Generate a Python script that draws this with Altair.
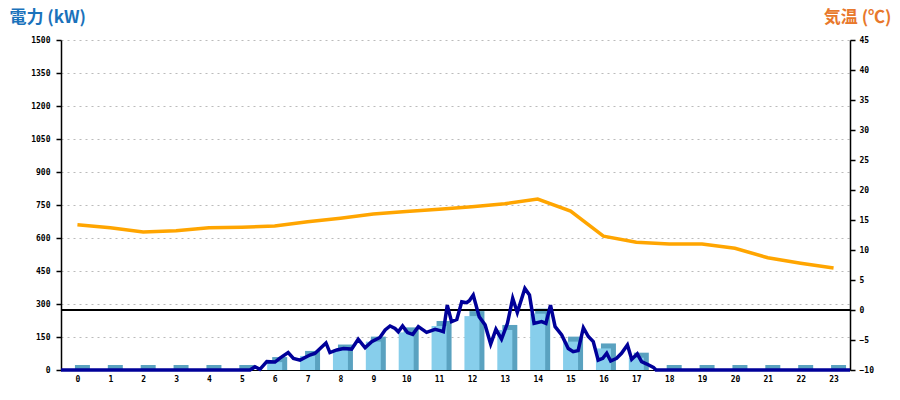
import altair as alt
import pandas as pd

# Hourly bars (kW), centred in each hour
hours = list(range(24))
bar_kw = [0, 0, 0, 0, 0, 0, 36, 64, 93, 129, 171, 200, 245, 182, 256, 129, 98, 56, 0, 0, 0, 0, 0, 0]

# Hourly temperature (°C)
temp_c = [14.2, 13.7, 13.0, 13.2, 13.7, 13.8, 14.0, 14.7, 15.3, 16.0, 16.4, 16.8,
          17.2, 17.7, 18.5, 16.5, 12.3, 11.3, 11.0, 11.0, 10.3, 8.7, 7.8, 7.0]

# Power line readings (time in hours, kW)
line_t = [0, 5.75, 5.9, 6.05, 6.26, 6.51, 6.66, 6.91, 7.07, 7.27, 7.57, 7.73, 8.06, 8.18, 8.39,
          8.59, 8.84, 9.04, 9.25, 9.45, 9.70, 9.86, 10.01, 10.16, 10.26, 10.39, 10.54, 10.70,
          10.87, 11.12, 11.38, 11.53, 11.63, 11.75, 11.88, 12.04, 12.19, 12.34, 12.42, 12.54,
          12.72, 12.90, 13.07, 13.23, 13.40, 13.58, 13.74, 13.88, 14.11, 14.25, 14.39, 14.62,
          14.75, 14.89, 15.03, 15.23, 15.43, 15.58, 15.73, 15.89, 16.04, 16.19, 16.34, 16.48,
          16.60, 16.72, 16.90, 17.05, 17.23, 17.36, 17.53, 17.66, 17.82, 18.02, 18.10, 24]
line_kw = [0, 0, 15, 3, 38, 36, 54, 79, 53, 45, 68, 76, 123, 79, 91, 98, 95, 140, 101, 129,
           148, 182, 200, 189, 174, 200, 170, 162, 197, 171, 185, 179, 174, 295, 220, 230, 310,
           306, 315, 341, 242, 205, 118, 185, 140, 212, 326, 261, 371, 341, 212, 220, 212, 295,
           197, 159, 98, 83, 88, 192, 152, 129, 45, 53, 76, 41, 53, 76, 114, 49, 73, 38, 27, 12, 0, 0]

left_ticks = list(range(0, 1501, 150))
right_ticks = list(range(-10, 46, 5))
x_label_pos = [h + 0.5 for h in hours]

assert len(line_t) == len(line_kw)

bars_df = pd.DataFrame({"pos": [h + 0.5 for h in hours], "kw": bar_kw})
temp_df = pd.DataFrame({"pos": [h + 0.5 for h in hours], "temp": temp_c})
line_df = pd.DataFrame({"t": line_t, "kw": line_kw})

LABEL_FONT = "DejaVu Sans Mono"
TITLE_FONT = "Noto Sans CJK JP"

x_axis = alt.Axis(values=x_label_pos, labelExpr="floor(datum.value)", ticks=False,
                  grid=False, domainColor="black", domainWidth=1, labelPadding=5,
                  labelOverlap=False,
                  labelFont=LABEL_FONT, labelFontSize=8, labelFontWeight="bold",
                  labelColor="black", title=None)
x_scale = alt.Scale(domain=[0, 24], nice=False, zero=False, padding=0)

left_axis = alt.Axis(values=left_ticks, format="d", labelOverlap=False, labelBound=False,
                     grid=True, gridDash=[2, 4], gridColor="#bbbbbb",
                     domainColor="black", domainWidth=1.5, tickColor="black", tickSize=5,
                     tickWidth=1.5, labelPadding=6, labelFont=LABEL_FONT, labelFontSize=8,
                     labelFontWeight="bold", labelColor="black",
                     title="電力 (kW)", titleAngle=0, titleX=-52, titleY=-31,
                     titleAlign="left", titleBaseline="top", titleFont=TITLE_FONT,
                     titleFontSize=17, titleFontWeight="bold", titleColor="#1a72bb")

right_axis = alt.Axis(orient="right", values=right_ticks, format="d", labelOverlap=False,
                      labelBound=False, grid=False,
                      domainColor="black", domainWidth=1.5, tickColor="black", tickSize=5,
                      tickWidth=1.5, labelPadding=4, labelFont=LABEL_FONT, labelFontSize=8,
                      labelFontWeight="bold", labelColor="black",
                      title="気温 (℃)", titleAngle=0, titleX=41, titleY=-31,
                      titleAlign="right", titleBaseline="top", titleFont=TITLE_FONT,
                      titleFontSize=17, titleFontWeight="bold", titleColor="#e8782c")

kw_scale = alt.Scale(domain=[0, 1500], nice=False, zero=True)
temp_scale = alt.Scale(domain=[-10, 45], nice=False, zero=False)

back = alt.Chart(bars_df).mark_bar(size=15, xOffset=5, yOffset=-5, y2Offset=0,
                                   color="#5aa2c0").encode(
    x=alt.X("pos:Q", scale=x_scale, axis=x_axis),
    y=alt.Y("kw:Q", scale=kw_scale, axis=left_axis),
    y2=alt.datum(0),
)
front = alt.Chart(bars_df).mark_bar(size=15, color="#87ceeb").encode(
    x=alt.X("pos:Q", scale=x_scale, axis=x_axis),
    y=alt.Y("kw:Q", scale=kw_scale, axis=left_axis),
    y2=alt.datum(0),
)
bars = alt.layer(back, front)

temp_line = alt.Chart(temp_df).mark_line(color="#ffa500", strokeWidth=3.5).encode(
    x=alt.X("pos:Q", scale=x_scale, axis=x_axis),
    y=alt.Y("temp:Q", scale=temp_scale, axis=right_axis),
)
zero_rule = alt.Chart(temp_df).mark_rule(color="black", strokeWidth=1.2).encode(
    y=alt.YDatum(0, scale=temp_scale, axis=right_axis),
)
temp_layer = alt.layer(temp_line, zero_rule)

power_line = alt.Chart(line_df).mark_line(color="#000099", strokeWidth=3.5).encode(
    x=alt.X("t:Q", scale=x_scale, axis=x_axis),
    y=alt.Y("kw:Q", scale=kw_scale, axis=None),
)

chart = alt.layer(bars, temp_layer, power_line).resolve_scale(y="independent").properties(
    width=789, height=330,
    autosize=alt.AutoSizeParams(type="none"),
    padding={"left": 53, "top": 32, "right": 42, "bottom": 22},
    background="white",
).configure_view(stroke=None).configure_axis(labelOverlap=False)

chart.save("out.html", embed_options={"renderer": "svg", "actions": False})
